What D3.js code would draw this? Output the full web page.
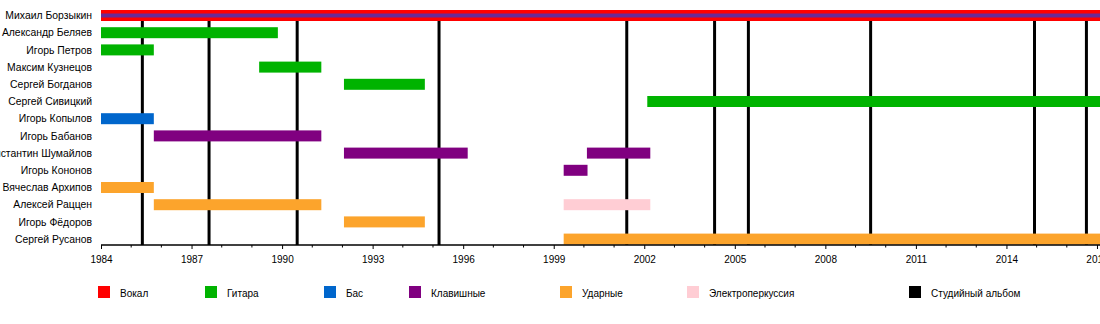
<!DOCTYPE html>
<html><head><meta charset="utf-8">
<script src="https://cdn.jsdelivr.net/npm/d3@7/dist/d3.min.js"></script>
<style>
html,body{margin:0;padding:0;background:#fff;overflow:hidden}
svg{display:block;font-family:"Liberation Sans",Arial,sans-serif}
</style></head>
<body>
<svg id="c" width="1100" height="324"></svg>
<script>
// ---- data ----
const members = ["Михаил Борзыкин","Александр Беляев","Игорь Петров","Максим Кузнецов","Сергей Богданов","Сергей Сивицкий","Игорь Копылов","Игорь Бабанов","Константин Шумайлов","Игорь Кононов","Вячеслав Архипов","Алексей Раццен","Игорь Фёдоров","Сергей Русанов"];
const roles = ["Вокал","Гитара","Бас","Клавишные","Ударные","Электроперкуссия"];
const roleColors = ["#ff0000","#00b300","#0066cc","#800080","#fca42c","#ffcdd4"];
const END = 2017.1;
// [member, role, start, end]
const periods = [
  ["Михаил Борзыкин","Вокал",1984,END],
  ["Александр Беляев","Гитара",1984,1989.86],
  ["Игорь Петров","Гитара",1984,1985.75],
  ["Максим Кузнецов","Гитара",1989.24,1991.3],
  ["Сергей Богданов","Гитара",1992.05,1994.73],
  ["Сергей Сивицкий","Гитара",2002.1,END],
  ["Игорь Копылов","Бас",1984,1985.75],
  ["Игорь Бабанов","Клавишные",1985.75,1991.3],
  ["Константин Шумайлов","Клавишные",1992.05,1996.15],
  ["Константин Шумайлов","Клавишные",2000.1,2002.2],
  ["Игорь Кононов","Клавишные",1999.33,2000.12],
  ["Вячеслав Архипов","Ударные",1984,1985.75],
  ["Алексей Раццен","Ударные",1985.75,1991.3],
  ["Алексей Раццен","Электроперкуссия",1999.33,2002.2],
  ["Игорь Фёдоров","Ударные",1992.05,1994.73],
  ["Сергей Русанов","Ударные",1999.33,END]
];
// secondary stripe (keyboards) inside vocals bar
const stripes = [["Михаил Борзыкин","Клавишные",1984,END]];
const albums = [1985.37,1987.58,1990.5,1995.2,2001.42,2004.33,2005.45,2009.5,2014.93,2016.65];
const majorTicks = [1984,1987,1990,1993,1996,1999,2002,2005,2008,2011,2014,2017];
const minorTicks = d3.range(1984,2018);
const legendItems = roles.concat(["Студийный альбом"]);
const legendColors = roleColors.concat(["#000000"]);

// ---- layout ----
const plotL=101, plotR=1100, axisY=245;
const svg=d3.select("#c");
const x=d3.scaleLinear().domain([1984,END]).range([plotL,plotR]);
const y=d3.scalePoint().domain(members).range([15.5,239.1]);
const color=d3.scaleOrdinal().domain(roles).range(roleColors);
const barH=11;

// album lines (behind bars)
svg.append("g").selectAll("line").data(albums).join("line")
  .attr("x1",d=>x(d)).attr("x2",d=>x(d))
  .attr("y1",y(members[0])).attr("y2",axisY)
  .attr("stroke","#000").attr("stroke-width",3);

// bars
svg.append("g").selectAll("rect").data(periods).join("rect")
  .attr("x",d=>x(d[2])).attr("width",d=>x(d[3])-x(d[2]))
  .attr("y",d=>y(d[0])-barH/2).attr("height",barH)
  .attr("fill",d=>color(d[1]));
svg.append("g").selectAll("rect").data(stripes).join("rect")
  .attr("x",d=>x(d[2])).attr("width",d=>x(d[3])-x(d[2]))
  .attr("y",d=>y(d[0])-2).attr("height",4)
  .attr("fill","#6a2a96");

// labels
svg.append("g").selectAll("text").data(members).join("text")
  .attr("x",92).attr("y",d=>y(d)+3.6)
  .attr("text-anchor","end").attr("font-size",10.4).attr("fill","#000")
  .text(d=>d);

// axis
const ax=svg.append("g").attr("transform",`translate(0,${axisY})`);
ax.append("line").attr("x1",plotL).attr("x2",plotR).attr("stroke","#000").attr("stroke-width",1.5);
ax.call(g=>{
  const a=d3.axisBottom(x).tickValues(majorTicks).tickFormat(d3.format("d")).tickSize(4).tickPadding(7);
  g.append("g").call(a).call(s=>s.select(".domain").remove())
   .call(s=>s.selectAll("text").attr("font-size",10).attr("font-family","Liberation Sans, Arial, sans-serif").attr("fill","#000"));
  g.append("g").selectAll("line").data(minorTicks.filter(t=>!majorTicks.includes(t))).join("line")
   .attr("x1",d=>x(d)).attr("x2",d=>x(d)).attr("y1",0).attr("y2",2.5).attr("stroke","#000");
});

// legend
const legendX=[98,205,324,409,560,687,909];
const lg=svg.append("g").selectAll("g").data(legendItems).join("g")
  .attr("transform",(d,i)=>`translate(${legendX[i]},286)`);
lg.append("rect").attr("width",12).attr("height",12).attr("fill",(d,i)=>legendColors[i]);
lg.append("text").attr("x",22).attr("y",11).attr("font-size",10).attr("fill","#000").text(d=>d);
</script>
</body></html>
